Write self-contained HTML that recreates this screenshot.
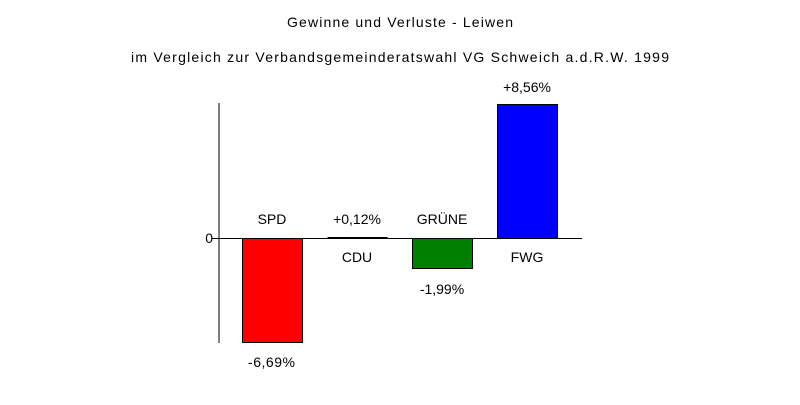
<!DOCTYPE html>
<html><head><style>
body{margin:0;background:#fff;}
svg text{font-family:"Liberation Sans",sans-serif;font-size:14px;fill:#000;}
</style></head><body>
<svg width="800" height="400" xmlns="http://www.w3.org/2000/svg">
<rect width="800" height="400" fill="#fff"/>
<text x="287" y="27" textLength="226" lengthAdjust="spacing">Gewinne und Verluste - Leiwen</text>
<text x="131" y="62" textLength="538" lengthAdjust="spacing">im Vergleich zur Verbandsgemeinderatswahl VG Schweich a.d.R.W. 1999</text>
<rect x="242.5" y="238.5" width="60" height="104" fill="#ff0000" stroke="#000"/>
<rect x="327.5" y="237" width="60" height="1.5" fill="#000"/>
<rect x="412.5" y="238.5" width="60" height="30" fill="#008000" stroke="#000"/>
<rect x="497.5" y="104.5" width="60" height="134" fill="#0000ff" stroke="#000"/>
<line x1="219" y1="103" x2="219" y2="343" stroke="#000"/>
<line x1="212" y1="238.5" x2="582" y2="238.5" stroke="#000"/>
<text x="213" y="243" text-anchor="end">0</text>
<text x="272" y="224" text-anchor="middle">SPD</text>
<text x="248" y="367" textLength="47" lengthAdjust="spacing">-6,69%</text>
<text x="357" y="224" text-anchor="middle">+0,12%</text>
<text x="357" y="262" text-anchor="middle">CDU</text>
<text x="442" y="224" text-anchor="middle">GRÜNE</text>
<text x="442" y="294" text-anchor="middle">-1,99%</text>
<text x="527" y="92" text-anchor="middle">+8,56%</text>
<text x="527" y="262" text-anchor="middle">FWG</text>
</svg>
</body></html>
